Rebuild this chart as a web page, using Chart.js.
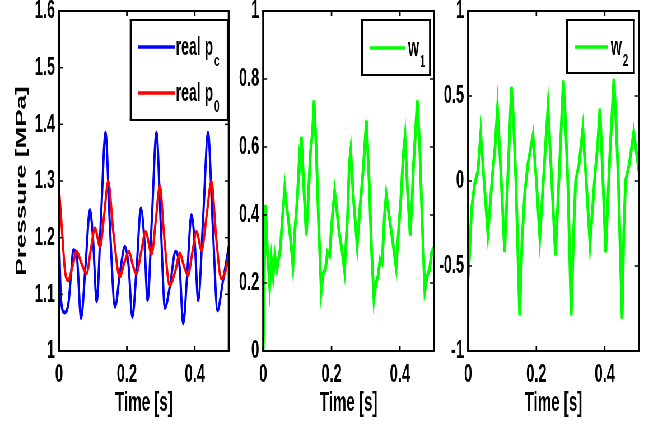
<!DOCTYPE html>
<html>
<head>
<meta charset="utf-8">
<script src="https://cdn.jsdelivr.net/npm/chart.js@4.4.1/dist/chart.umd.min.js"></script>
<style>
  html, body { margin: 0; padding: 0; background: #fff; overflow: hidden; }
  /* la figura original esta comprimida en horizontal */
  #wrap { position: absolute; left: 0; top: 0; height: 428px; transform-origin: 0 0; }
  canvas { position: absolute; top: 0; }
</style>
</head>
<body>
<div id="wrap">
  <canvas id="c1" height="428"></canvas>
  <canvas id="c2" height="428"></canvas>
  <canvas id="c3" height="428"></canvas>
</div>
<script>
const FONT = "'Liberation Sans', Arial, sans-serif";
const S = 0.56;

// Panel 1: presiones (MPa)
const tPc = [0, 0.006, 0.016, 0.028, 0.036, 0.042, 0.052, 0.065, 0.078, 0.091, 0.1, 0.111, 0.124, 0.137, 0.15, 0.165, 0.18, 0.194, 0.205, 0.216, 0.229, 0.241, 0.251, 0.261, 0.274, 0.287, 0.3, 0.312, 0.328, 0.343, 0.355, 0.366, 0.378, 0.39, 0.4, 0.41, 0.425, 0.439, 0.453, 0.467, 0.482, 0.5];
const pc  = [1.2, 1.09, 1.068, 1.085, 1.14, 1.178, 1.17, 1.058, 1.15, 1.249, 1.2, 1.088, 1.24, 1.385, 1.22, 1.078, 1.14, 1.184, 1.15, 1.06, 1.15, 1.252, 1.2, 1.09, 1.24, 1.385, 1.22, 1.076, 1.12, 1.175, 1.15, 1.049, 1.14, 1.24, 1.19, 1.09, 1.24, 1.385, 1.22, 1.072, 1.12, 1.184];
const tP0 = [0, 0.008, 0.018, 0.027, 0.04, 0.052, 0.066, 0.081, 0.094, 0.106, 0.121, 0.133, 0.145, 0.16, 0.179, 0.192, 0.206, 0.218, 0.228, 0.242, 0.255, 0.273, 0.285, 0.297, 0.31, 0.326, 0.342, 0.356, 0.368, 0.38, 0.393, 0.405, 0.42, 0.435, 0.449, 0.463, 0.478, 0.49, 0.5];
const p0  = [1.287, 1.22, 1.14, 1.125, 1.15, 1.175, 1.155, 1.137, 1.18, 1.216, 1.184, 1.24, 1.299, 1.21, 1.131, 1.155, 1.175, 1.15, 1.137, 1.175, 1.21, 1.172, 1.23, 1.291, 1.2, 1.116, 1.14, 1.172, 1.15, 1.134, 1.175, 1.21, 1.178, 1.24, 1.299, 1.2, 1.128, 1.14, 1.168];

// Panel 2: w1
const tW1 = [0, 0.003, 0.007, 0.012, 0.019, 0.024, 0.029, 0.034, 0.04, 0.05, 0.057, 0.063, 0.068, 0.072, 0.08, 0.087, 0.093, 0.1, 0.106, 0.109, 0.112, 0.118, 0.126, 0.132, 0.138, 0.144, 0.149, 0.155, 0.162, 0.17, 0.176, 0.182, 0.188, 0.194, 0.201, 0.209, 0.215, 0.222, 0.23, 0.238, 0.247, 0.252, 0.256, 0.264, 0.275, 0.283, 0.29, 0.297, 0.302, 0.31, 0.317, 0.324, 0.33, 0.336, 0.342, 0.348, 0.355, 0.36, 0.368, 0.378, 0.389, 0.396, 0.403, 0.41, 0.415, 0.422, 0.43, 0.436, 0.44, 0.446, 0.451, 0.458, 0.466, 0.473, 0.48, 0.487, 0.493, 0.5];
const w1  = [0.0, 0.2, 0.43, 0.3, 0.19, 0.27, 0.22, 0.28, 0.24, 0.3, 0.4, 0.48, 0.43, 0.4, 0.33, 0.25, 0.36, 0.45, 0.57, 0.55, 0.63, 0.5, 0.34, 0.45, 0.58, 0.64, 0.737, 0.6, 0.38, 0.177, 0.23, 0.24, 0.29, 0.28, 0.38, 0.47, 0.42, 0.35, 0.3, 0.236, 0.4, 0.55, 0.59, 0.45, 0.31, 0.42, 0.5, 0.6, 0.678, 0.5, 0.3, 0.153, 0.2, 0.22, 0.27, 0.26, 0.4, 0.46, 0.4, 0.33, 0.246, 0.35, 0.45, 0.58, 0.63, 0.48, 0.34, 0.45, 0.55, 0.65, 0.737, 0.6, 0.36, 0.177, 0.22, 0.24, 0.29, 0.305];

// Panel 3: w2
const tW2 = [0, 0.004, 0.01, 0.019, 0.029, 0.037, 0.045, 0.058, 0.072, 0.079, 0.086, 0.096, 0.107, 0.118, 0.127, 0.133, 0.14, 0.151, 0.158, 0.166, 0.175, 0.19, 0.2, 0.21, 0.222, 0.228, 0.234, 0.245, 0.256, 0.268, 0.279, 0.285, 0.292, 0.302, 0.309, 0.315, 0.325, 0.336, 0.346, 0.357, 0.372, 0.379, 0.386, 0.395, 0.403, 0.415, 0.427, 0.433, 0.44, 0.451, 0.456, 0.461, 0.472, 0.485, 0.5];
const w2  = [-0.57, -0.45, -0.17, -0.02, 0.06, 0.28, 0.05, -0.31, 0.05, 0.2, 0.426, 0.05, -0.418, 0.1, 0.553, 0.36, 0.0, -0.79, -0.35, -0.07, 0.1, 0.269, 0.0, -0.33, 0.05, 0.25, 0.435, 0.0, -0.437, 0.1, 0.592, 0.36, 0.0, -0.79, -0.3, 0.0, 0.1, 0.308, 0.0, -0.37, 0.05, 0.2, 0.426, 0.0, -0.42, 0.15, 0.602, 0.36, 0.0, -0.81, -0.3, 0.0, 0.1, 0.288, 0.06];

// Ticks
const xTicks  = [0, 0.2, 0.4];
const yTicks1 = [1, 1.1, 1.2, 1.3, 1.4, 1.5, 1.6];
const yTicks2 = [0, 0.2, 0.4, 0.6, 0.8, 1];
const yTicks3 = [-1, -0.5, 0, 0.5, 1];

// Leyendas (texto + subindice)
const namesP  = [['real p', 'c'], ['real p', '0']];
const namesW1 = [['w', '1']];
const namesW2 = [['w', '2']];

const pts = (t, v) => t.map((x, i) => ({ x: x, y: v[i] }));

// Posicion del lienzo en px reales (antes de comprimir)
document.getElementById('wrap').style.width = (652 / S) + 'px';
document.getElementById('wrap').style.transform = 'scaleX(' + S + ')';
function lienzo(id, left, right) {
    const c = document.getElementById(id);
    c.style.left = (left / S) + 'px';
    c.width = Math.round((right - left) / S);
    return c.getContext('2d');
}

function line(ctx, x1, y1, x2, y2) {
    ctx.beginPath(); ctx.moveTo(x1, y1); ctx.lineTo(x2, y2); ctx.stroke();
}

// Caja tipo MATLAB con ticks hacia adentro
const marcoPlugin = {
    id: 'marco',
    afterDatasetsDraw(chart) {
        const { ctx, chartArea: a, scales } = chart;
        ctx.save();
        ctx.strokeStyle = '#000';
        ctx.lineWidth = 1.5;
        scales.y.ticks.forEach(t => {
            const y = scales.y.getPixelForValue(t.value);
            line(ctx, a.left, y, a.left + 4 / S, y);
            line(ctx, a.right - 4 / S, y, a.right, y);
        });
        ctx.lineWidth = 1.5 / S;
        scales.x.ticks.forEach(t => {
            const x = scales.x.getPixelForValue(t.value);
            line(ctx, x, a.bottom, x, a.bottom - 5);
            line(ctx, x, a.top, x, a.top + 5);
        });
        ctx.lineWidth = 2;
        line(ctx, a.left - 1 / S, a.top, a.right + 1 / S, a.top);
        line(ctx, a.left - 1 / S, a.bottom, a.right + 1 / S, a.bottom);
        ctx.lineWidth = 2 / S;
        line(ctx, a.left, a.top, a.left, a.bottom);
        line(ctx, a.right, a.top, a.right, a.bottom);
        ctx.restore();
    }
};

// Leyenda dibujada a mano (subindices)
const leyendaPlugin = {
    id: 'leyenda',
    afterDraw(chart, args, o) {
        const { ctx, chartArea: a } = chart;
        const bw = o.width / S;
        const bx = a.right - o.right / S - bw, by = a.top + o.top;
        ctx.save();
        ctx.fillStyle = '#fff';
        ctx.fillRect(bx, by, bw, o.height);
        ctx.strokeStyle = '#000';
        ctx.lineWidth = 2;
        line(ctx, bx - 1 / S, by, bx + bw + 1 / S, by);
        line(ctx, bx - 1 / S, by + o.height, bx + bw + 1 / S, by + o.height);
        ctx.lineWidth = 2 / S;
        line(ctx, bx, by, bx, by + o.height);
        line(ctx, bx + bw, by, bx + bw, by + o.height);
        o.rows.forEach((r, i) => {
            const y = by + r.y;
            ctx.strokeStyle = chart.data.datasets[r.ds].borderColor;
            ctx.lineWidth = 3.5;
            line(ctx, bx + o.x1 / S, y, bx + o.x2 / S, y);
            ctx.fillStyle = '#000';
            ctx.textBaseline = 'alphabetic';
            ctx.font = 'bold 25px ' + FONT;
            ctx.fillText(o.names[i][0], bx + o.tx / S, y + 8);
            const w = ctx.measureText(o.names[i][0]).width;
            ctx.font = 'bold 17px ' + FONT;
            ctx.fillText(o.names[i][1], bx + o.tx / S + w + 2, y + 19);
        });
        ctx.restore();
    }
};

function ejes(yTicks, yMin, yMax, yWidth, yTitle) {
    return {
        x: {
            type: 'linear', min: 0, max: 0.5,
            afterBuildTicks: s => { s.ticks = xTicks.map(v => ({ value: v })); },
            afterFit: s => { s.height = 77; s.paddingLeft = 0; s.paddingRight = 0; },
            grid: { display: false, drawTicks: false },
            border: { display: false },
            ticks: { color: '#000', font: { family: FONT, size: 26, weight: 'bold' }, padding: 8, maxRotation: 0, callback: v => String(v) },
            title: { display: true, text: 'Time [s]', color: '#000', font: { family: FONT, size: 27, weight: 'bold' }, padding: { top: 0, bottom: 8.5 } }
        },
        y: {
            type: 'linear', min: yMin, max: yMax,
            afterBuildTicks: s => { s.ticks = yTicks.map(v => ({ value: v })); },
            afterFit: s => { s.width = yWidth / S; s.paddingTop = 0; s.paddingBottom = 0; },
            grid: { display: false, drawTicks: false },
            border: { display: false },
            ticks: { color: '#000', font: { family: FONT, size: 26, weight: 'bold' }, padding: 4 / S, callback: v => String(v) },
            title: { display: !!yTitle, text: yTitle || '', color: '#000', font: { family: FONT, size: 26, weight: 'bold' }, padding: { top: 21.5 / S - 15.6, bottom: 0 } }
        }
    };
}

function opciones(scales, padRight, leyenda) {
    return {
        responsive: false,
        animation: false,
        events: [],
        layout: { padding: { top: 11, right: padRight / S, left: 0, bottom: 0 } },
        scales: scales,
        plugins: { legend: { display: false }, tooltip: { enabled: false }, leyenda: leyenda }
    };
}

// Grafico 1: presiones (area 59..229 px)
new Chart(lienzo('c1', 0, 240.5), {
    type: 'line',
    data: {
        datasets: [
            { data: pts(tP0, p0), borderColor: '#ff0000', borderWidth: 4, pointRadius: 0, cubicInterpolationMode: 'monotone' },
            { data: pts(tPc, pc), borderColor: '#0000ff', borderWidth: 4, pointRadius: 0, cubicInterpolationMode: 'monotone' }
        ]
    },
    options: opciones(ejes(yTicks1, 1, 1.6, 59, 'Pressure [MPa]'), 11.5, {
        right: 1, width: 97, top: 9, height: 100, x1: 7, x2: 44, tx: 45,
        names: namesP, rows: [{ ds: 1, y: 27 }, { ds: 0, y: 73 }]
    }),
    plugins: [marcoPlugin, leyendaPlugin]
});

// Grafico 2: w1 (area 263..434 px)
new Chart(lienzo('c2', 221, 448.5), {
    type: 'line',
    data: { datasets: [{ data: pts(tW1, w1), borderColor: '#00ff00', borderWidth: 5, pointRadius: 0, tension: 0 }] },
    options: opciones(ejes(yTicks2, 0, 1, 42, null), 14.5, {
        right: 4, width: 68, top: 9, height: 55, x1: 8, x2: 43, tx: 46,
        names: namesW1, rows: [{ ds: 0, y: 28 }]
    }),
    plugins: [marcoPlugin, leyendaPlugin]
});

// Grafico 3: w2 (area 468..639 px)
new Chart(lienzo('c3', 416, 652), {
    type: 'line',
    data: { datasets: [{ data: pts(tW2, w2), borderColor: '#00ff00', borderWidth: 5, pointRadius: 0, tension: 0 }] },
    options: opciones(ejes(yTicks3, -1, 1, 52, null), 13, {
        right: 5, width: 67, top: 9, height: 53, x1: 8, x2: 41, tx: 44,
        names: namesW2, rows: [{ ds: 0, y: 27 }]
    }),
    plugins: [marcoPlugin, leyendaPlugin]
});
</script>
</body>
</html>
